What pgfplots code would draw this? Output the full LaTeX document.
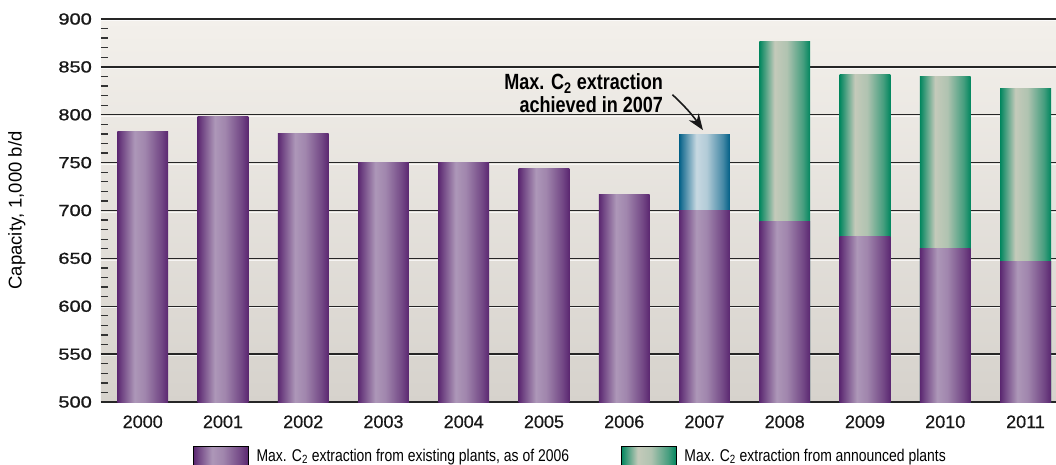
\documentclass[border=0pt]{standalone}
\usepackage{fontspec}
\setmainfont{Liberation Sans}
\newfontfamily\condfont[FakeStretch=0.82]{Liberation Sans}
\newfontfamily\widefont[FakeStretch=1.25, FakeBold=1.2]{Liberation Sans}
\newfontfamily\yearfont[FakeBold=0.6]{Liberation Sans}
\usepackage{pgfplots}
\pgfplotsset{compat=1.18}
\usepackage{pgfplotstable}
\usetikzlibrary{arrows.meta}

% colours
\definecolor{bgtop}{HTML}{F3F0EB}
\definecolor{bgbot}{HTML}{D6D2CC}
\definecolor{pdark}{HTML}{5A2670}
\definecolor{plight}{HTML}{AD97B8}
\definecolor{gdark}{HTML}{00865E}
\definecolor{glight}{HTML}{C4CABA}
\definecolor{bdark}{HTML}{005E86}
\definecolor{blight}{HTML}{C7D8E1}

% cylinder-like horizontal gradients for the bars
\pgfdeclarehorizontalshading{purplebar}{100bp}{color(0bp)=(pdark); color(25bp)=(pdark); color(29bp)=(pdark!75!plight); color(42bp)=(plight); color(52bp)=(plight!85!pdark); color(68bp)=(pdark!70!plight); color(75bp)=(pdark); color(100bp)=(pdark)}
\pgfdeclarehorizontalshading{greenbar}{100bp}{color(0bp)=(gdark); color(25bp)=(gdark); color(28bp)=(gdark!80!glight); color(40bp)=(glight); color(52bp)=(glight!90!gdark); color(68bp)=(gdark!65!glight); color(75bp)=(gdark); color(100bp)=(gdark)}
\pgfdeclarehorizontalshading{bluebar}{100bp}{color(0bp)=(bdark); color(25bp)=(bdark); color(28bp)=(bdark!80!blight); color(42bp)=(blight); color(52bp)=(blight!90!bdark); color(68bp)=(bdark!65!blight); color(75bp)=(bdark); color(100bp)=(bdark)}

% Max. C2 extraction from existing plants (1,000 b/d)
\pgfplotstableread{
year existing
0 782
1 798
2 780
3 750
4 750
5 744
6 717
7 700
8 688
9 673
10 660
11 647
}\existingtbl

% total including announced plants (1,000 b/d)
\pgfplotstableread{
year total
8 877
9 842
10 840
11 827
}\announcedtbl

\pgfplotsset{
  cylbar/.style={ybar, bar shift=0pt, draw=none, shade, shading=#1},
}

\begin{document}
\begin{tikzpicture}
\begin{axis}[
  name=ax,
  scale only axis,
  width=955pt, height=383pt,
  xmin=-0.52, xmax=11.38,
  ymin=500, ymax=900,
  bar width=0.635,
  axis background/.style={shade, top color=bgtop, bottom color=bgbot},
  axis line style={draw=none},
  xtick={0,...,11},
  xticklabels={2000,2001,2002,2003,2004,2005,2006,2007,2008,2009,2010,2011},
  ytick={500,550,...,900},
  minor y tick num=4,
  ytick pos=left,
  tick align=inside,
  major tick length=0pt,
  minor tick length=7pt,
  minor tick style={draw=black!80, line width=1.3pt},
  ymajorgrids,
  major grid style={draw=black!85, line width=1.3pt,
    preaction={draw=white, draw opacity=0.7, line width=1pt, transform canvas={yshift=-1.7pt}}},
  /pgf/number format/assume math mode=true,
  xticklabel style={font=\yearfont\fontsize{18}{18}\selectfont, text=black!90, anchor=base, yshift=-26pt, inner sep=0pt},
  yticklabel style={font=\widefont\fontsize{16}{16}\selectfont, text=black!90, anchor=east, inner sep=0pt, xshift=-9pt},
  ylabel={Capacity, 1,000 b/d},
  ylabel style={at={(axis description cs:-0.088,0.5)}, anchor=center, font=\fontsize{18.5}{18.5}\selectfont},
  legend columns=-1,
  legend style={at={(axis description cs:0.0963,-0.115)}, anchor=north west,
    draw=none, fill=none, inner sep=0pt,
    font=\condfont\fontsize{17}{17}\selectfont,
    /tikz/every odd column/.append style={column sep=6pt},
    /tikz/every even column/.append style={column sep=50pt}},
]
% legend swatches
\addlegendimage{legend image code/.code={\shade[shading=purplebar] (0pt,-9.5pt) rectangle (55pt,9.5pt);}}
\addlegendentry{Max. C\textsubscript{2} extraction from existing plants, as of 2006}
\addlegendimage{legend image code/.code={\shade[shading=greenbar] (0pt,-9.5pt) rectangle (55pt,9.5pt);}}
\addlegendentry{Max. C\textsubscript{2} extraction from announced plants}

% 2007: highest extraction reached
\addplot[cylbar=bluebar, forget plot] coordinates {(7,779)};
% totals with announced plants, one path per bar so each gets its own gradient
\pgfplotsinvokeforeach{8,...,11}{
  \addplot[cylbar=greenbar, forget plot, restrict x to domain=#1:#1]
    table[x=year, y=total] {\announcedtbl};
}
% existing plants
\pgfplotsinvokeforeach{0,...,11}{
  \addplot[cylbar=purplebar, forget plot, restrict x to domain=#1:#1]
    table[x=year, y=existing] {\existingtbl};
}

\node[anchor=north east, align=right, inner sep=0pt,
  font=\condfont\bfseries\fontsize{22}{23}\selectfont]
  at (axis cs:6.485,843) {Max. C\textsubscript{2} extraction\\achieved in 2007};
\draw[line width=1.6pt, black!90, -{Stealth[length=16pt, width=12pt]}]
  (axis cs:6.60,821) to[bend left=6] (axis cs:6.98,784);
\end{axis}
\pgfresetboundingbox
\path ([shift={(-101pt,-63pt)}]ax.south west) rectangle ([shift={(0pt,19pt)}]ax.north east);
\end{tikzpicture}
\end{document}
